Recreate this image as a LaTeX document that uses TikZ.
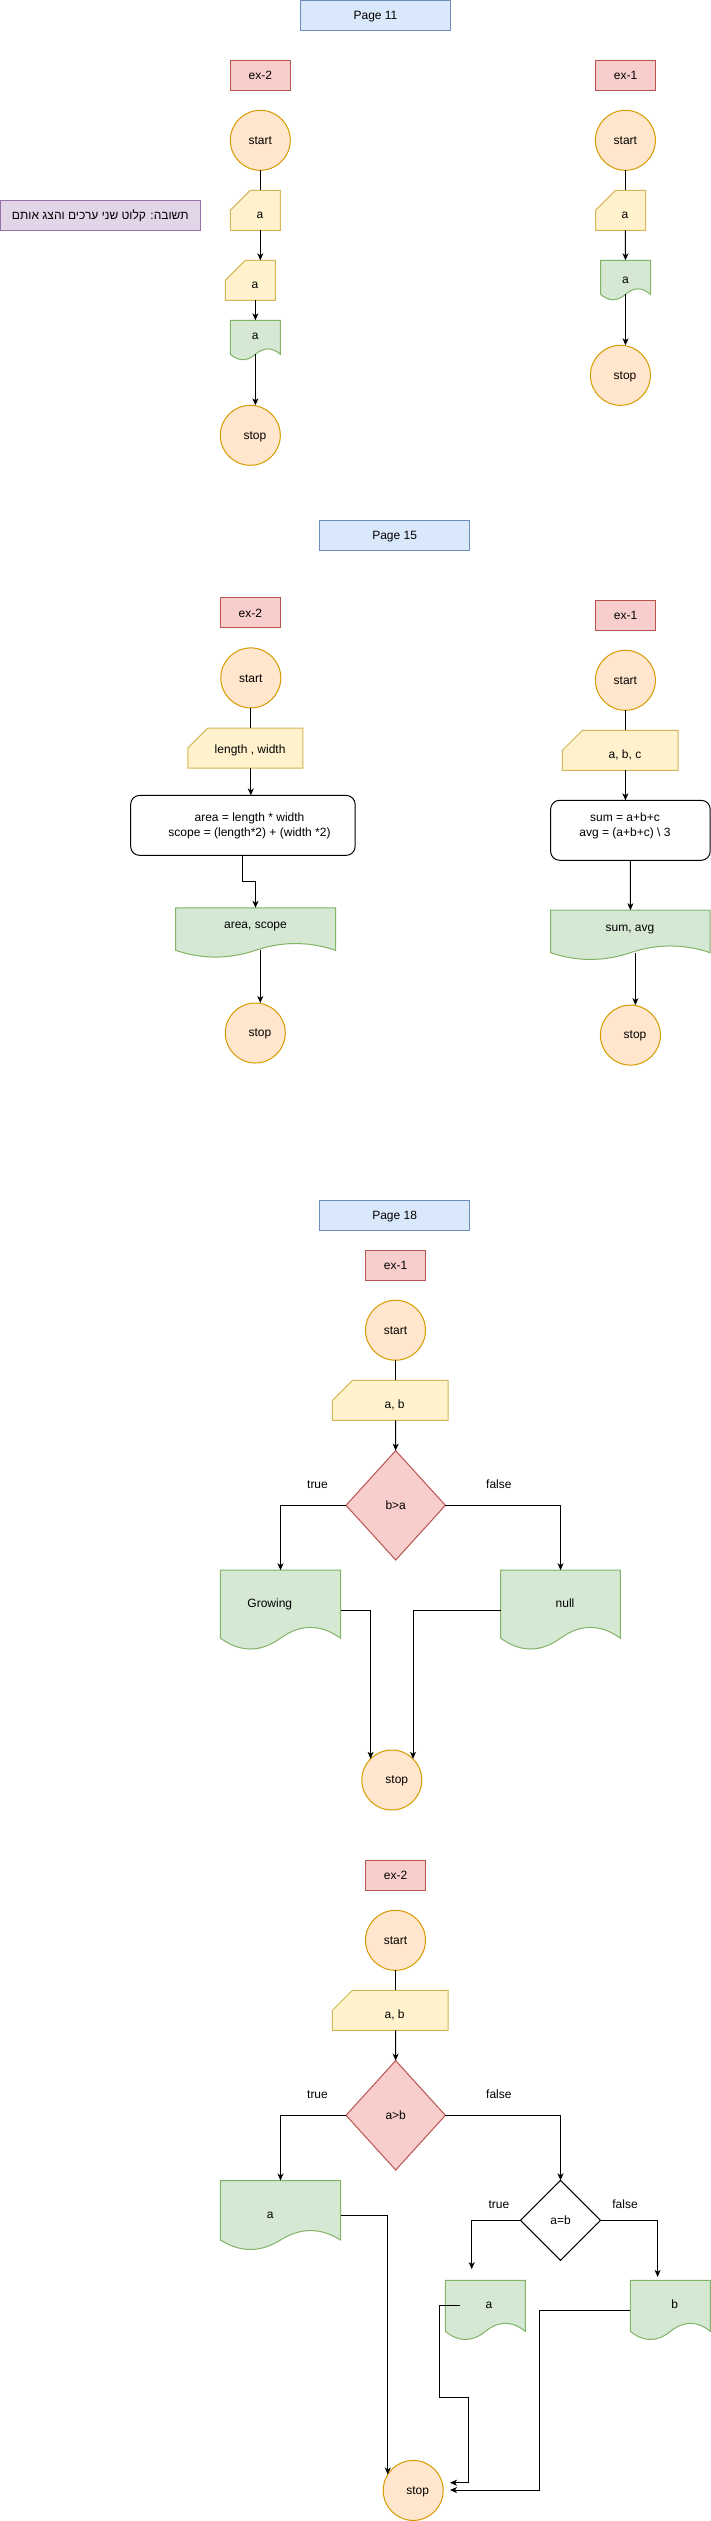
\documentclass[tikz,border=0pt]{standalone}
\usepackage{fontspec}
\setmainfont{Liberation Sans}
\newfontfamily\hebfont[Script=Hebrew]{Liberation Sans}
\TeXXeTstate=1
\usetikzlibrary{shapes.geometric,arrows.meta,calc}
\definecolor{blueF}{HTML}{DAE8FC}\definecolor{blueS}{HTML}{6C8EBF}
\definecolor{redF}{HTML}{F8CECC}\definecolor{redS}{HTML}{B85450}
\definecolor{orF}{HTML}{FFE6CC}\definecolor{orS}{HTML}{D79B00}
\definecolor{yeF}{HTML}{FFF2CC}\definecolor{yeS}{HTML}{D6B656}
\definecolor{grF}{HTML}{D5E8D4}\definecolor{grS}{HTML}{82B366}
\definecolor{puF}{HTML}{E1D5E7}\definecolor{puS}{HTML}{9673A6}
\tikzset{
  base/.style={font=\fontsize{12}{14.4}\selectfont, text height=10.86pt, text depth=2.54pt, inner sep=0pt, outer sep=0pt, line width=1pt},
  txt/.style={base},
  pagebox/.style={base, rectangle, draw=blueS, fill=blueF, minimum width=150pt, minimum height=30pt},
  exbox/.style={base, rectangle, draw=redS, fill=redF, minimum width=60pt, minimum height=30pt},
  term/.style={base, circle, draw=orS, fill=orF, minimum size=60pt},
  notebox/.style={base, rectangle, draw=puS, fill=puF, minimum width=199.5pt, minimum height=30pt},
  proc/.style={base, rectangle, rounded corners=9pt, draw=black, fill=white},
  multi/.style={font=\fontsize{12}{15}\selectfont, align=center, inner sep=0pt},
  dec/.style={base, diamond, draw=redS, fill=redF},
  decw/.style={base, diamond, draw=black, fill=white},
  anchorbox/.style={rectangle, inner sep=0pt, outer sep=0pt},
  docshape/.style={draw=grS, fill=grF, line width=1pt},
  cardshape/.style={draw=yeS, fill=yeF, line width=1pt},
  conn/.style={draw=black, line width=1pt},
  arr/.style={conn, -{Stealth[length=7pt,width=6pt,inset=2pt]}},
}
\newcommand\mkdoc[8]{%
  \path[docshape] (#2,#3) -- ({#2+#4},#3) -- ({#2+#4},{#3+0.85*#5})
    .. controls ({#2+0.8333*#4},{#3+0.67*#5}) and ({#2+0.6667*#4},{#3+0.67*#5}) .. ({#2+0.5*#4},{#3+0.85*#5})
    .. controls ({#2+0.3333*#4},{#3+1.03*#5}) and ({#2+0.1667*#4},{#3+1.03*#5}) .. (#2,{#3+0.85*#5}) -- cycle;
  \node[anchorbox, minimum width=#4pt, minimum height=#5pt] (#1) at ({#2+0.5*#4},{#3+0.5*#5}) {};
  \coordinate (#1-w) at ({#2+0.5*#4},{#3+0.85*#5});
  \node[txt] (#1-t) at (#7,#8) {#6};
}
\newcommand\mkcard[8]{%
  \path[cardshape] ({#2+20},#3) -- ({#2+#4},#3) -- ({#2+#4},{#3+#5}) -- (#2,{#3+#5}) -- (#2,{#3+20}) -- cycle;
  \node[anchorbox, minimum width=#4pt, minimum height=#5pt] (#1) at ({#2+0.5*#4},{#3+0.5*#5}) {};
  \node[txt] (#1-t) at (#7,#8) {#6};
}
\begin{document}
\begin{tikzpicture}[x=1pt,y=-1pt]
\fill[white] (0,0) rectangle (711,2521);
\useasboundingbox (0,0) rectangle (711,2521);

% ---------------- Page 11 ----------------
\node[pagebox] (p11) at (375.5,15.7) {Page 11};
\node[exbox] (ex2a) at (260.3,75.5) {ex-2};
\node[exbox] (ex1a) at (625.6,75.5) {ex-1};
\node[term] (st2a) at (260.3,140.3) {start};
\node[term] (st1a) at (625.4,140.3) {start};
\mkcard{in2a}{230.4}{190.3}{50}{40}{a}{260}{214}
\node[notebox] (note) at (100.25,215.3) {\hebfont\beginR תשובה: קלוט שני ערכים והצג אותם\endR};
\mkcard{in2b}{225.4}{260.3}{50}{40}{a}{255}{284}
\mkdoc{d2a}{230.4}{320.3}{50}{40}{a}{255.3}{335}
\node[term] (sp2a) at (250.3,435.3) {};
\node[txt] (sp2a-t) at (254.9,435) {stop};
\mkcard{in1a}{595.5}{190.3}{50}{40}{a}{625}{214}
\mkdoc{d1a}{600.5}{260.3}{50}{40}{a}{625.4}{279}
\node[term] (sp1a) at (620.4,375.3) {};
\node[txt] (sp1a-t) at (625,375) {stop};

\draw[conn] (st2a.south) -- (st2a.south |- in2a.north);
\draw[arr] (st2a.south |- in2a.south) -- (st2a.south |- in2b.north);
\draw[arr] (d2a.north |- in2b.south) -- (d2a.north);
\draw[arr] (d2a-w) -- (d2a-w |- sp2a.north);
\draw[conn] (st1a.south) -- (st1a.south |- in1a.north);
\draw[arr] (st1a.south |- in1a.south) -- (d1a.north);
\draw[arr] (d1a-w) -- (d1a-w |- sp1a.north);

% ---------------- Page 15 ----------------
\node[pagebox] (p15) at (394.6,535.3) {Page 15};
\node[exbox] (ex2b) at (250.4,612.9) {ex-2};
\node[exbox] (ex1b) at (625.6,615.2) {ex-1};
\node[term] (st2b) at (250.8,677.9) {start};
\node[term] (st1b) at (625.4,680.3) {start};
\mkcard{in2c}{187.8}{728}{115}{40}{length , width}{250.1}{749}
\node[proc, minimum width=224.5pt, minimum height=60pt] (pr2) at (242.9,825.4) {};
\node[multi] (pr2-t) at (249.5,825.4) {area = length * width\\scope = (length*2) + (width *2)};
\mkdoc{d2b}{175.5}{907.8}{160}{50}{area, scope}{255.5}{924}
\node[term] (sp2b) at (255.3,1033) {};
\node[txt] (sp2b-t) at (259.9,1032.5) {stop};
\mkcard{in1b}{562.4}{730.3}{115.6}{40}{a, b, c}{625}{754}
\node[proc, minimum width=159.6pt, minimum height=60pt] (pr1) at (630.4,830.3) {};
\node[multi] (pr1-t) at (625,825.4) {sum = a+b+c\\avg = (a+b+c) \textbackslash{} 3};
\mkdoc{d1b}{550.6}{910.2}{159.6}{50}{sum, avg}{630}{927}
\node[term] (sp1b) at (630.4,1035.1) {};
\node[txt] (sp1b-t) at (635,1034.5) {stop};

\draw[conn] (st2b.south) -- (st2b.south |- in2c.north);
\draw[arr] (st2b.south |- in2c.south) -- (st2b.south |- pr2.north);
\draw[arr] (pr2.south) -- ++(0,26.1) -| (d2b.north);
\draw[arr] ([xshift=4.8pt]d2b-w) -- ([xshift=4.8pt]d2b-w |- sp2b.north);
\draw[conn] (st1b.south) -- (st1b.south |- in1b.north);
\draw[arr] (st1b.south |- in1b.south) -- (st1b.south |- pr1.north);
\draw[arr] (pr1.south) -- (d1b.north);
\draw[arr] ([xshift=5pt]d1b-w) -- ([xshift=5pt]d1b-w |- sp1b.north);

% ---------------- Page 18, ex-1 ----------------
\node[pagebox] (p18) at (394.6,1215.3) {Page 18};
\node[exbox] (ex1c) at (395.5,1265.1) {ex-1};
\node[term] (st1c) at (395.5,1330.2) {start};
\mkcard{in1c}{332.4}{1380.4}{115.6}{40}{a, b}{394.6}{1404}
\node[dec, minimum width=99.4pt, minimum height=109.4pt] (dc1) at (395.7,1505.3) {b>a};
\node[txt] (t1) at (317.5,1484) {true};
\node[txt] (f1) at (498.9,1484) {false};
\mkdoc{dG}{220.4}{1570.2}{120.2}{80}{Growing}{269.8}{1603.5}
\mkdoc{dN}{500.7}{1570.2}{119.7}{80}{null}{565}{1603.5}
\node[term] (sp1c) at (391.8,1780) {};
\node[txt] (sp1c-t) at (396.8,1779.5) {stop};

\draw[conn] (st1c.south) -- (st1c.south |- in1c.north);
\draw[arr] (st1c.south |- in1c.south) -- (dc1.north);
\draw[arr] (dc1.west) -| (dG.north);
\draw[arr] (dc1.east) -| (dN.north);
\draw[arr] (dG.east) -| (sp1c.north west);
\draw[arr] (dN.west) -| (sp1c.north east);

% ---------------- Page 18, ex-2 ----------------
\node[exbox] (ex2c) at (395.5,1875.4) {ex-2};
\node[term] (st2c) at (395.5,1940.3) {start};
\mkcard{in2d}{332.4}{1990.3}{115.6}{40}{a, b}{394.6}{2014}
\node[dec, minimum width=99.4pt, minimum height=109.4pt] (dc2) at (395.7,2115.3) {a>b};
\node[txt] (t2) at (317.5,2094) {true};
\node[txt] (f2) at (498.9,2094) {false};
\mkdoc{dA}{220.4}{2180.5}{120.2}{70}{a}{270.3}{2214}
\node[decw, minimum width=80pt, minimum height=80pt] (dc3) at (560.5,2220.3) {a=b};
\node[txt] (t3) at (498.9,2204) {true};
\node[txt] (f3) at (625,2204) {false};
\mkdoc{dA2}{445.4}{2280.4}{80}{60}{a}{488.9}{2304.5}
\mkdoc{dB}{630.4}{2280.4}{80}{60}{b}{674.8}{2304.5}
\node[term] (sp2c) at (413.2,2490.4) {};
\node[txt] (sp2c-t) at (417.7,2490) {stop};

\coordinate (a3end) at (471.7,2269.1);
\coordinate (b3end) at (657.6,2276.9);
\coordinate (a2s) at (460,2305);
\coordinate (sin1) at (450,2482.7);
\coordinate (sin2) at (450,2490);

\draw[conn] (st2c.south) -- (st2c.south |- in2d.north);
\draw[arr] (st2c.south |- in2d.south) -- (dc2.north);
\draw[arr] (dc2.west) -| (dA.north);
\draw[arr] (dc2.east) -| (dc3.north);
\draw[arr] (dA.east) -| (sp2c.148);
\draw[arr] (dc3.west) -| (a3end);
\draw[arr] (dc3.east) -| (b3end);
\draw[arr] (a2s) -- (439.3,2305) -- (439.3,2397.7) -- (468,2397.7) -- (468,2482.7) -- (sin1);
\draw[arr] (dB.west) -- (539.3,2310.4) -- (539.3,2490) -- (sin2);
\end{tikzpicture}
\end{document}
